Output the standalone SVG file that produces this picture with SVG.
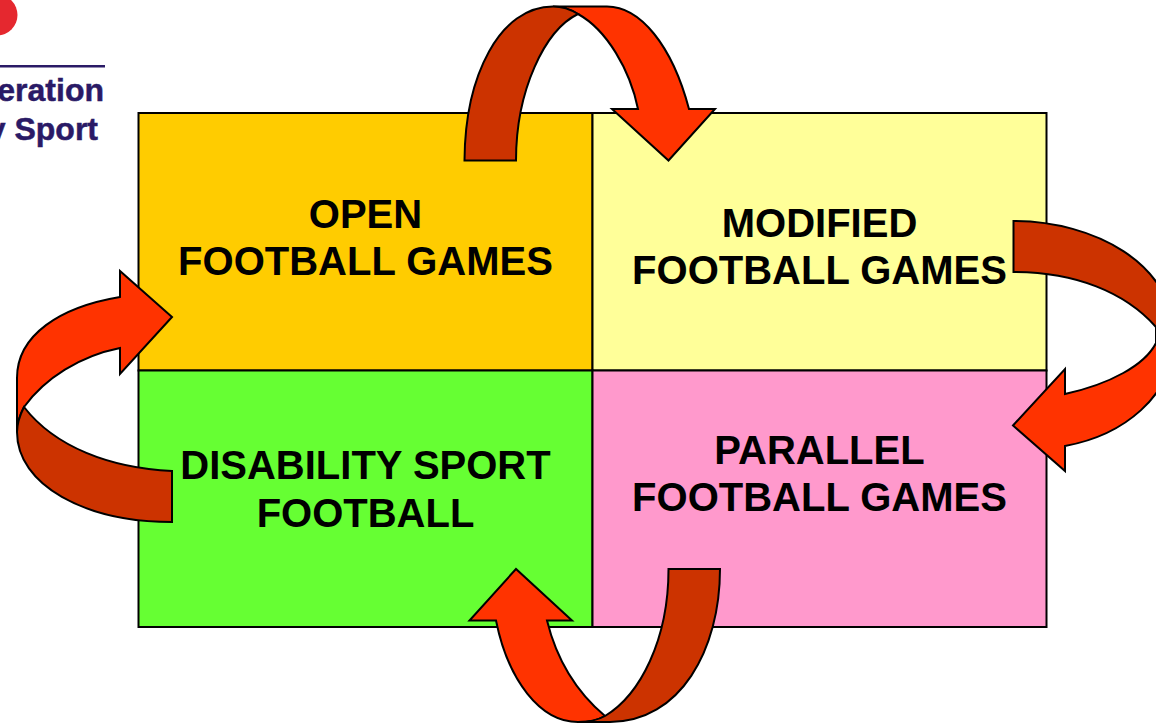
<svg xmlns="http://www.w3.org/2000/svg" width="1156" height="723" viewBox="0 0 1156 723">
<style>
.box{stroke:#000;stroke-width:2}
.t{font-family:"Liberation Sans",Arial,sans-serif;font-weight:700;font-size:40px;fill:#000;text-anchor:middle}
.logo{font-family:"Liberation Sans",Arial,sans-serif;font-weight:700;font-size:32px;fill:#2a1a66;stroke:#2a1a66;stroke-width:.5;text-anchor:end}
.a{fill:#ff3300;stroke:#000;stroke-width:2;stroke-linejoin:miter}
.d{fill:#cc3300;stroke:#000;stroke-width:2;stroke-linejoin:miter}
</style>
<rect width="1156" height="723" fill="#fff"/>
<g id="logo">
<circle cx="-3" cy="15" r="20.5" fill="#e5282f"/>
<rect x="0" y="65" width="105" height="2.5" fill="#2a1a66"/>
<text class="logo" x="104" y="101">eration</text>
<text class="logo" x="98" y="140">y Sport</text>
</g>
<g id="node-open">
<rect class="box" x="138.500" y="113" width="454" height="257.500" fill="#ffcc00"/>
<text class="t" x="365.500" y="228">OPEN</text>
<text class="t" x="365.500" y="275">FOOTBALL GAMES</text>
</g>
<g id="node-modified">
<rect class="box" x="592.500" y="113" width="454" height="257.500" fill="#ffff99"/>
<text class="t" x="819.500" y="237">MODIFIED</text>
<text class="t" x="819.500" y="284">FOOTBALL GAMES</text>
</g>
<g id="node-disability">
<rect class="box" x="138.500" y="370.500" width="454" height="256.500" fill="#66ff33"/>
<text class="t" x="365.500" y="479">DISABILITY SPORT</text>
<text class="t" x="365.500" y="527">FOOTBALL</text>
</g>
<g id="node-parallel">
<rect class="box" x="592.500" y="370.500" width="454" height="256.500" fill="#ff99cc"/>
<text class="t" x="819.500" y="464">PARALLEL</text>
<text class="t" x="819.500" y="511">FOOTBALL GAMES</text>
</g>
<g id="connectors">
<g id="arrow-top">
<path class="a" d="M553 6.500L607 6.500C640 6.500 672 45 689 109L715 109L668.500 160.500L612 109L638 109C630 70 607 30 578 14C570 9 560 6.500 553 6.500Z"/>
<path class="d" d="M464.500 160.500C465 75 500 6.500 553 6.500C560 6.500 570 9 578 14C545 30 516 90 516 160.500Z"/>
</g>
<g id="arrow-right">
<path class="a" d="M1156 327C1165 335 1172 340 1172 345C1172 395 1125 435 1065 446L1065 471L1013 425.500L1065 369L1065 394C1110 384 1145 365 1156 343Z"/>
<path class="d" d="M1013.500 221C1095 221 1172 265 1172 330L1172 345C1168 335 1160 331 1156 327C1125 292 1075 272 1013.500 272Z"/>
</g>
<g id="arrow-bottom">
<path class="a" d="M516 569L469.500 620.500L496 620.500C508 680 540 722 578 722C590 722 598 720 605 716C580 695 558 665 547 620.500L572 620.500Z"/>
<path class="d" d="M668.500 569C668.500 640 640 695 605 716C598 720 590 722 578 722L610 722C680 722 720 650 720 569Z"/>
</g>
<g id="arrow-left">
<path class="a" d="M172 317L120 271L120 297C60 307 17 335 17 378L17 432C18 420 20 415 24 407C45 378 80 356 120 348L120 374Z"/>
<path class="d" d="M172 471C110 468 55 447 24 407C20 415 17 424 17 432C17 485 85 522 172 522Z"/>
</g>
</g>
</svg>
